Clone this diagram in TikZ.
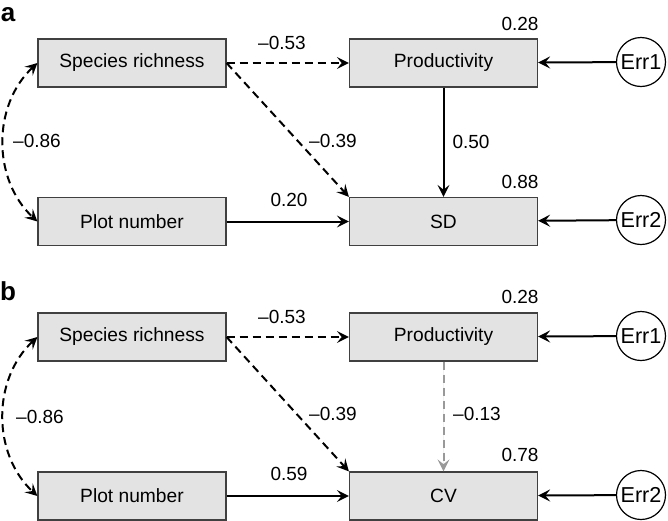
\documentclass[tikz,border=0pt]{standalone}
\usepackage{fontspec}
\setmainfont{Liberation Sans}
\usetikzlibrary{arrows.meta}
\begin{document}
\begin{tikzpicture}[x=0.5pt, y=-0.5pt,
    varbox/.style={rectangle, draw=black!75, line width=0.6pt, fill=black!11, minimum width=94pt, minimum height=24pt, font=\fontsize{9.6}{11}\selectfont},
    errnode/.style={circle, draw=black, line width=0.6pt, fill=white, minimum size=24.5pt, inner sep=0pt, font=\fontsize{10.8}{12}\selectfont},
    coef/.style={font=\fontsize{9.5}{11}\selectfont},
    panel/.style={font=\fontsize{13}{15}\selectfont\bfseries},
    myarrow/.style={-{Stealth[length=6pt, width=6pt, inset=2.4pt]}, line width=1pt},
    negarrow/.style={myarrow, dash pattern=on 4pt off 2.5pt},
]
\useasboundingbox (0,0) rectangle (668,520);

% panel a
\node[panel] at (8,15) {a};
\node[varbox] (sra)  at (132,63)  {Species richness};
\node[varbox] (proda) at (443.5,63) {Productivity};
\node[varbox] (pna)  at (132,221.5) {Plot number};
\node[varbox] (sd)   at (443.5,221.5) {SD};
\node[errnode] (e1a) at (641,62)  {Err1};
\node[errnode] (e2a) at (641,220) {Err2};

\draw[negarrow] (sra.east) -- (proda.west);
\draw[negarrow] (sra.east) -- (sd.north west);
\draw[negarrow, {Stealth[length=6pt, width=6pt, inset=2.4pt]}-{Stealth[length=6pt, width=6pt, inset=2.4pt]}] (sra.west) to[bend right=47] (pna.west);
\draw[myarrow] (proda) -- (sd);
\draw[myarrow] (pna) -- (sd);
\draw[myarrow] (e1a) -- (proda);
\draw[myarrow] (e2a) -- (sd);

\node[coef] at (282,43)  {–0.53};
\node[coef] at (520,24)  {0.28};
\node[coef] at (37,141)  {–0.86};
\node[coef] at (333,141) {–0.39};
\node[coef] at (471,142) {0.50};
\node[coef] at (520,182) {0.88};
\node[coef] at (289,200) {0.20};

% panel b
\node[panel] at (8,291) {b};
\node[varbox] (srb)  at (132,337)  {Species richness};
\node[varbox] (prodb) at (443.5,337) {Productivity};
\node[varbox] (pnb)  at (132,496) {Plot number};
\node[varbox] (cv)   at (443.5,496) {CV};
\node[errnode] (e1b) at (641,336) {Err1};
\node[errnode] (e2b) at (641,495) {Err2};

\draw[negarrow] (srb.east) -- (prodb.west);
\draw[negarrow] (srb.east) -- (cv.north west);
\draw[negarrow, {Stealth[length=6pt, width=6pt, inset=2.4pt]}-{Stealth[length=6pt, width=6pt, inset=2.4pt]}] (srb.west) to[bend right=47] (pnb.west);
\draw[negarrow, draw=black!40, fill=black!40] (prodb) -- (cv);
\draw[myarrow] (pnb) -- (cv);
\draw[myarrow] (e1b) -- (prodb);
\draw[myarrow] (e2b) -- (cv);

\node[coef] at (282,317) {–0.53};
\node[coef] at (520,297) {0.28};
\node[coef] at (40,417)  {–0.86};
\node[coef] at (333,414) {–0.39};
\node[coef] at (477,414) {–0.13};
\node[coef] at (520,455) {0.78};
\node[coef] at (289,474) {0.59};
\end{tikzpicture}
\end{document}
